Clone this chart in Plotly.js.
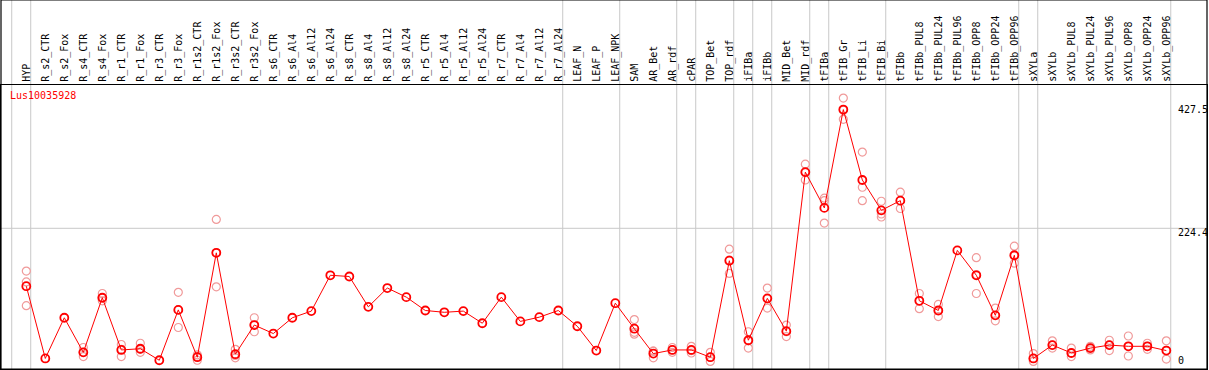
<!DOCTYPE html>
<html>
<head>
<meta charset="utf-8">
<script src="https://cdn.plot.ly/plotly-3.0.1.min.js"></script>
<style>html,body{margin:0;padding:0;background:#fff;}#chart{width:1209px;height:370px;}</style>
</head>
<body>
<div id="chart"></div>
<script>
// ---- data ----
const geneName = "Lus10035928";
const categories = ["HYP","R_s2_CTR","R_s2_Fox","R_s4_CTR","R_s4_Fox","R_r1_CTR","R_r1_Fox","R_r3_CTR","R_r3_Fox","R_r1s2_CTR","R_r1s2_Fox","R_r3s2_CTR","R_r3s2_Fox","R_s6_CTR","R_s6_Al4","R_s6_Al12","R_s6_Al24","R_s8_CTR","R_s8_Al4","R_s8_Al12","R_s8_Al24","R_r5_CTR","R_r5_Al4","R_r5_Al12","R_r5_Al24","R_r7_CTR","R_r7_Al4","R_r7_Al12","R_r7_Al24","LEAF_N","LEAF_P","LEAF_NPK","SAM","AR_Bet","AR_rdf","cPAR","TOP_Bet","TOP_rdf","iFIBa","iFIBb","MID_Bet","MID_rdf","tFIBa","tFIB_Gr","tFIB_Li","tFIB_Bi","tFIBb","tFIBb_PUL8","tFIBb_PUL24","tFIBb_PUL96","tFIBb_OPP8","tFIBb_OPP24","tFIBb_OPP96","sXYLa","sXYLb","sXYLb_PUL8","sXYLb_PUL24","sXYLb_PUL96","sXYLb_OPP8","sXYLb_OPP24","sXYLb_OPP96"];
const meanValues = [129,10,77,20,110,24,26,7,90,12,184,17,65,51,77,88,147,145,95,126,111,89,86,88,68,111,71,78,89,63,23,101,59,18,24,24,12,171,40,109,55,317,258,420,304,254,270,105,89,188,147,81,180,10,32,19,27,32,30,30,23];
const rep1 = [154,null,null,28,117,33,35,null,119,16,239,25,77,null,null,null,null,null,null,null,null,null,null,null,null,null,null,null,null,null,null,null,74,22,28,30,20,190,54,126,65,330,274,439,350,269,284,117,99,null,176,93,195,18,39,27,30,40,47,35,39];
const rep2 = [97,null,null,13,105,13,20,null,61,7,128,11,54,null,null,null,null,null,null,null,null,null,null,null,null,null,null,null,null,null,null,null,50,11,20,19,5,150,27,93,46,304,233,404,270,243,257,92,79,null,117,72,167,5,27,13,24,23,14,25,9];
const rep3 = [136,null,null,20,110,25,25,null,90,13,184,15,65,null,null,null,null,null,null,null,null,null,null,null,null,null,null,null,null,null,null,null,53,22,24,23,12,172,39,108,54,316,270,419,292,248,270,105,89,null,148,81,179,10,32,19,27,32,30,30,23];
const groupLastCategories = ["HYP","R_r7_Al24","LEAF_NPK","AR_rdf","cPAR","TOP_rdf","iFIBa","iFIBb","MID_rdf","tFIBa","tFIB_Bi","tFIBb_OPP96","sXYLa","sXYLb_OPP96"];
const yTickValues = [0, 224.4, 427.5];
const yTickLabels = ["0", "224.4", "427.5"];

// ---- build ----
const idx = categories.map((_, i) => i);
const repX = [], repY = [];
[rep1, rep2, rep3].forEach(r => r.forEach((v, i) => { if (v !== null) { repX.push(i); repY.push(v); } }));

const FONT = "DejaVu Sans Mono, monospace";
const HEADER = 85, PLOT_H = 284;
const topPaper = (PLOT_H + HEADER) / PLOT_H;
const sepOffset = 0.232;

const shapes = [];
// group separators (from boundary before first category plus each group's last category)
const sepIdx = [-1].concat(groupLastCategories.map(c => categories.indexOf(c)));
sepIdx.forEach(i => shapes.push({type:'line', xref:'x', yref:'paper', x0:i+sepOffset, x1:i+sepOffset, y0:0, y1:topPaper, line:{color:'#c8c8c8', width:1}, layer:'below'}));
// horizontal grid at middle tick
shapes.push({type:'line', xref:'paper', yref:'y', x0:0, x1:1, y0:yTickValues[1], y1:yTickValues[1], line:{color:'#c8c8c8', width:1}, layer:'below'});
// outer frame including header
shapes.push({type:'rect', xref:'paper', yref:'paper', x0:0, x1:1, y0:0, y1:topPaper, line:{color:'#000', width:1.2}, fillcolor:'rgba(0,0,0,0)'});

const annotations = [{
  xref:'paper', yref:'paper', x:0, y:1, xanchor:'left', yanchor:'top', xshift:7, yshift:-3,
  text:geneName, showarrow:false, font:{family:FONT, size:10, color:'#ff0000'}
}];
yTickValues.forEach((v, k) => {
  const isMin = v === Math.min.apply(null, yTickValues);
  annotations.push({
    xref:'paper', yref:'y', x:1, y:v, xanchor:'left', yanchor: isMin ? 'bottom' : 'top',
    xshift:-31, yshift: isMin ? -3 : 3,
    text:yTickLabels[k], showarrow:false, font:{family:FONT, size:10, color:'#000'}
  });
});

const traces = [
  {x:repX, y:repY, type:'scatter', mode:'markers', hoverinfo:'skip',
   marker:{symbol:'circle-open', size:8, color:'#f09a9a', line:{width:1.2, color:'#f09a9a'}}, showlegend:false},
  {x:idx, y:meanValues, type:'scatter', mode:'lines+markers',
   line:{color:'#ff0000', width:1},
   marker:{symbol:'circle-open', size:8, color:'#ff0000', line:{width:1.8, color:'#ff0000'}}, showlegend:false}
];

const layout = {
  width:1209, height:370,
  margin:{l:1, r:2, t:HEADER, b:1, pad:0},
  paper_bgcolor:'#fff', plot_bgcolor:'#fff',
  showlegend:false,
  xaxis:{range:[-1.332, 62.14], side:'top', tickmode:'array', tickvals:idx, ticktext:categories,
         tickangle:-90, ticks:'', tickfont:{family:FONT, size:10, color:'#000'},
         showgrid:false, zeroline:false, showline:true, mirror:true, linecolor:'#000', linewidth:1.2, fixedrange:true},
  yaxis:{range:[-7.4, 460.5], showticklabels:false, ticks:'', showgrid:false, zeroline:false,
         showline:true, mirror:true, linecolor:'#000', linewidth:1.2, fixedrange:true},
  shapes:shapes, annotations:annotations
};
Plotly.newPlot('chart', traces, layout, {displayModeBar:false, staticPlot:true});
</script>
</body>
</html>
